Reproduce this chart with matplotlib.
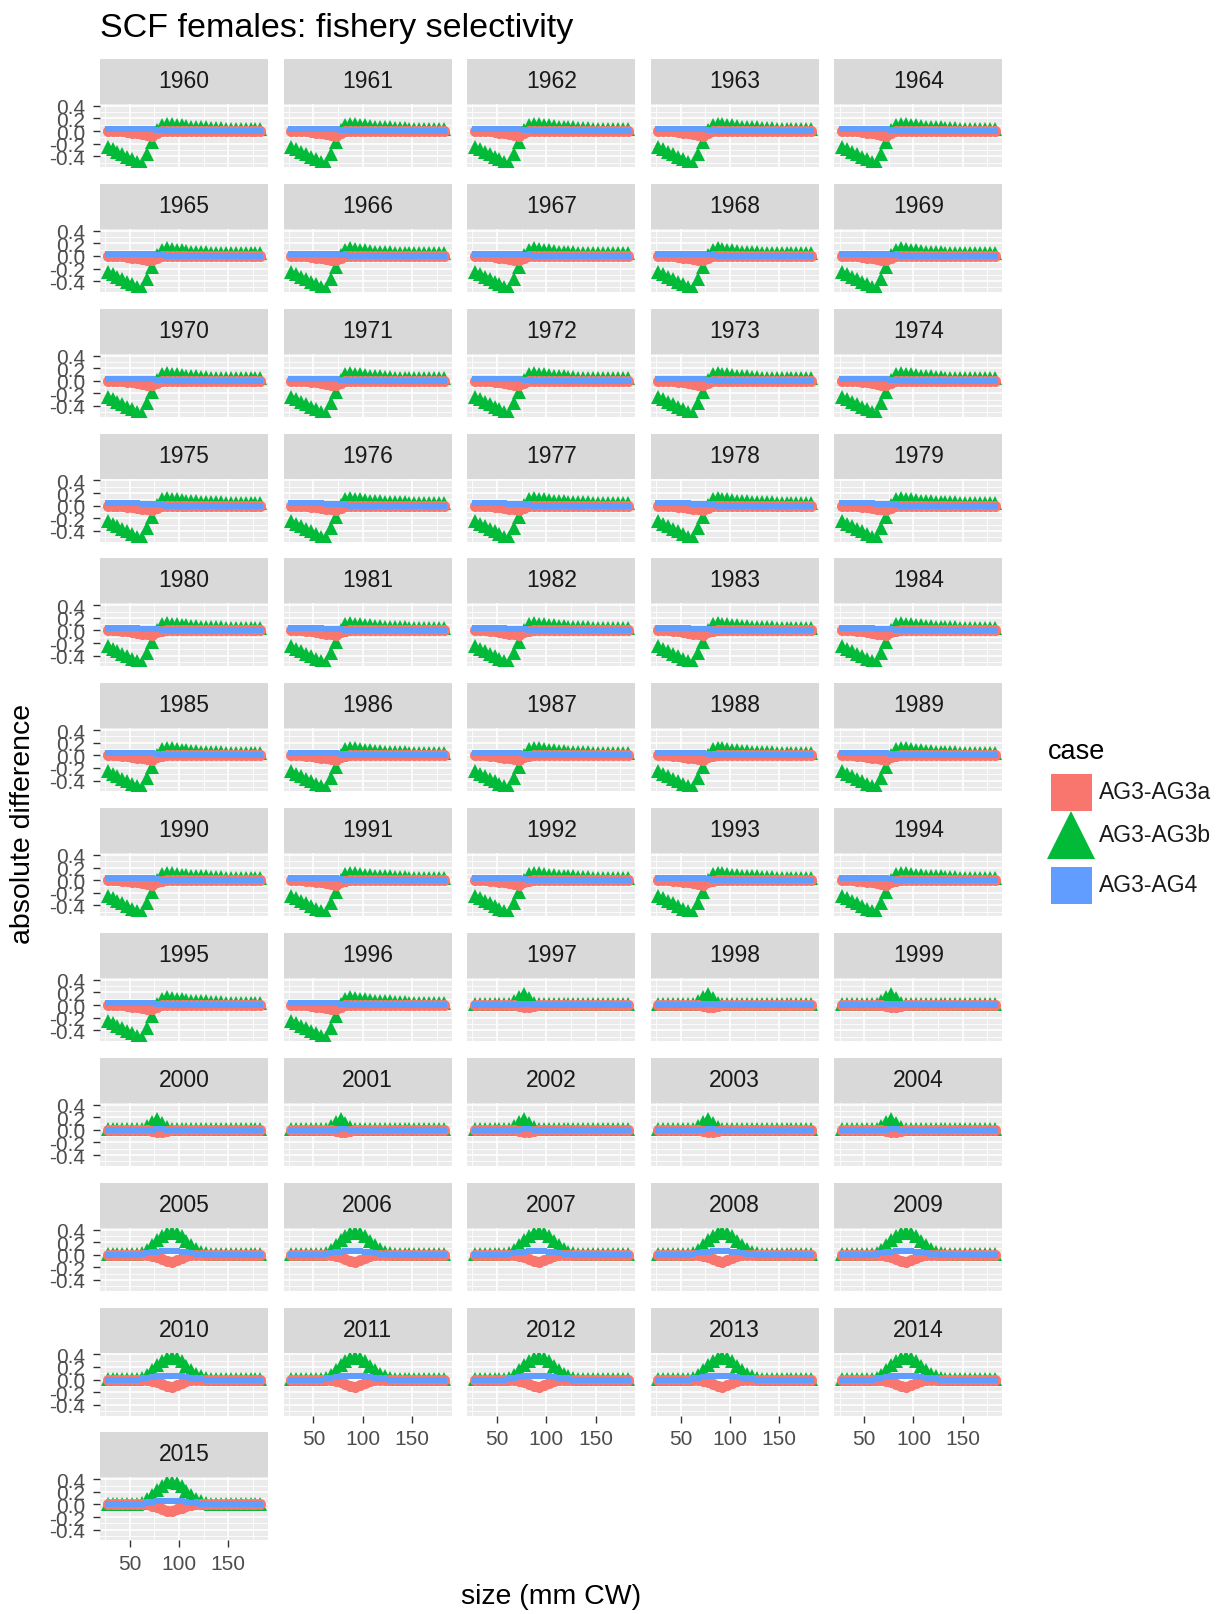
import matplotlib
matplotlib.use("Agg")
import matplotlib.pyplot as plt
from matplotlib.ticker import FixedLocator

plt.rcParams['font.family'] = ['Liberation Sans', 'DejaVu Sans']
plt.rcParams['axes.unicode_minus'] = False

# ---------------- data ----------------
years = list(range(1960, 2016))
period_starts = [1960, 1997, 2005]          # A: 1960-1996, B: 1997-2004, C: 2005-2015

sizes = [27.5, 32.5, 37.5, 42.5, 47.5, 52.5, 57.5, 62.5, 67.5, 72.5, 77.5, 82.5,
         87.5, 92.5, 97.5, 102.5, 107.5, 112.5, 117.5, 122.5, 127.5, 132.5, 137.5,
         142.5, 147.5, 152.5, 157.5, 162.5, 167.5, 172.5, 177.5, 182.5]

cases = ["AG3-AG3a", "AG3-AG3b", "AG3-AG4"]

# period A (1960-1996)
ag3a_A = [0.0, 0.0, 0.0, -0.005, -0.015, -0.025, -0.035, -0.05, -0.06, -0.07, -0.03, -0.005,
          0.0, 0.0, 0.0, 0.0, 0.0, 0.0, 0.0, 0.0, 0.0, 0.0, 0.0, 0.0, 0.0, 0.0, 0.0, 0.0,
          0.0, 0.0, 0.0, 0.0]
ag3b_A = [-0.25, -0.29, -0.33, -0.37, -0.41, -0.45, -0.49, -0.52, -0.36, -0.18, 0.01, 0.10,
          0.12, 0.11, 0.10, 0.09, 0.08, 0.07, 0.07, 0.06, 0.06, 0.05, 0.05, 0.05, 0.04, 0.04,
          0.04, 0.04, 0.04, 0.04, 0.04, 0.04]
ag4_A = [0.035, 0.035, 0.035, 0.035, 0.035, 0.035, 0.035, 0.03, 0.03, 0.03, 0.02, 0.01,
         0.0, 0.0, 0.0, 0.0, 0.0, 0.0, 0.0, 0.0, 0.0, 0.0, 0.0, 0.0, 0.0, 0.0, 0.0, 0.0,
         0.0, 0.0, 0.0, 0.0]

# period B (1997-2004)
ag3a_B = [0.0, 0.0, 0.0, 0.0, 0.0, 0.0, 0.0, 0.0, 0.0, -0.01, -0.03, -0.03,
          -0.01, 0.0, 0.0, 0.0, 0.0, 0.0, 0.0, 0.0, 0.0, 0.0, 0.0, 0.0, 0.0, 0.0, 0.0, 0.0,
          0.0, 0.0, 0.0, 0.0]
ag3b_B = [0.01, 0.01, 0.01, 0.01, 0.01, 0.01, 0.01, 0.02, 0.06, 0.13, 0.17, 0.11,
          0.04, 0.02, 0.01, 0.01, 0.01, 0.01, 0.01, 0.01, 0.01, 0.01, 0.01, 0.01, 0.01, 0.01,
          0.01, 0.01, 0.01, 0.01, 0.01, 0.01]
ag4_B = [0.0, 0.0, 0.0, 0.0, 0.0, 0.0, 0.0, 0.0, 0.0, 0.0, 0.015, 0.015,
         0.0, 0.0, 0.0, 0.0, 0.0, 0.0, 0.0, 0.0, 0.0, 0.0, 0.0, 0.0, 0.0, 0.0, 0.0, 0.0,
         0.0, 0.0, 0.0, 0.0]

# period C (2005-2015)
ag3a_C = [0.0, 0.0, 0.0, 0.0, 0.0, 0.0, 0.0, 0.0, 0.0, -0.02, -0.04, -0.07,
          -0.10, -0.11, -0.08, -0.05, -0.02, -0.005, 0.0, 0.0, 0.0, 0.0, 0.0, 0.0, 0.0, 0.0,
          0.0, 0.0, 0.0, 0.0, 0.0, 0.0]
ag3b_C = [0.01, 0.01, 0.01, 0.01, 0.01, 0.01, 0.01, 0.03, 0.08, 0.15, 0.23, 0.30,
          0.35, 0.36, 0.34, 0.29, 0.22, 0.15, 0.09, 0.05, 0.03, 0.01, 0.01, 0.01, 0.01, 0.01,
          0.01, 0.01, 0.01, 0.01, 0.01, 0.01]
ag4_C = [0.0, 0.0, 0.0, 0.0, 0.0, 0.0, 0.0, 0.01, 0.02, 0.04, 0.05, 0.06,
         0.06, 0.06, 0.06, 0.05, 0.04, 0.03, 0.015, 0.005, 0.0, 0.0, 0.0, 0.0, 0.0, 0.0,
         0.0, 0.0, 0.0, 0.0, 0.0, 0.0]

periods = [
    {"AG3-AG3a": ag3a_A, "AG3-AG3b": ag3b_A, "AG3-AG4": ag4_A},
    {"AG3-AG3a": ag3a_B, "AG3-AG3b": ag3b_B, "AG3-AG4": ag4_B},
    {"AG3-AG3a": ag3a_C, "AG3-AG3b": ag3b_C, "AG3-AG4": ag4_C},
]

y_ticks = [-0.4, -0.2, 0.0, 0.2, 0.4]
y_ticklabels = ["-0.4", "-0.2", "0.0", "0.2", "0.4"]
x_ticks = [50, 100, 150]
x_ticklabels = ["50", "100", "150"]

# ---------------- style ----------------
colors = {"AG3-AG3a": "#F8766D", "AG3-AG3b": "#00BA38", "AG3-AG4": "#619CFF"}
markers = {"AG3-AG3a": "o", "AG3-AG3b": "^", "AG3-AG4": "s"}
msizes = {"AG3-AG3a": 8.0, "AG3-AG3b": 9.6, "AG3-AG4": 4.8}
zorders = {"AG3-AG3a": 3, "AG3-AG3b": 2, "AG3-AG4": 4}

W, H = 1223, 1615
fig = plt.figure(figsize=(W / 100, H / 100), dpi=100)


def rect(left, top, w, h):
    return [left / W, 1 - (top + h) / H, w / W, h / H]


ncol = 5
col_left0, col_pitch, pw = 100.0, 183.6, 168.0
row_top0, row_pitch, sh, ph = 60.0, 124.85, 45.0, 63.0
xlim = (19.75, 190.25)
ylim = (-0.57, 0.43)


def period_index(yr):
    idx = 0
    for k, s in enumerate(period_starts):
        if yr >= s:
            idx = k
    return idx


for i, yr in enumerate(years):
    r, c = divmod(i, ncol)
    L = col_left0 + c * col_pitch
    T = row_top0 + r * row_pitch
    # strip
    sax = fig.add_axes(rect(L, T, pw, sh))
    sax.set_facecolor("#D9D9D9")
    sax.set_xticks([]); sax.set_yticks([])
    for sp in sax.spines.values():
        sp.set_visible(False)
    sax.text(0.5, 0.52, str(yr), ha="center", va="center", fontsize=16.5,
             color="#1A1A1A", transform=sax.transAxes)
    # panel
    ax = fig.add_axes(rect(L, T + sh, pw, ph))
    ax.set_facecolor("#EBEBEB")
    for sp in ax.spines.values():
        sp.set_visible(False)
    ax.set_xlim(*xlim); ax.set_ylim(*ylim)
    ax.xaxis.set_major_locator(FixedLocator(x_ticks))
    ax.xaxis.set_minor_locator(FixedLocator([25, 75, 125, 175]))
    ax.yaxis.set_major_locator(FixedLocator(y_ticks))
    ax.yaxis.set_minor_locator(FixedLocator([-0.5, -0.3, -0.1, 0.1, 0.3]))
    ax.grid(which="major", color="white", lw=1.2)
    ax.grid(which="minor", color="white", lw=0.6)
    ax.set_axisbelow(True)
    ax.tick_params(which="minor", length=0)

    data = periods[period_index(yr)]
    for cs in cases:
        ax.plot(sizes, data[cs], linestyle="none", marker=markers[cs],
                markersize=msizes[cs], color=colors[cs], markeredgewidth=0,
                zorder=zorders[cs])

    show_y = (c == 0)
    bottom_of_col = (i + ncol >= len(years))
    if show_y:
        ax.set_yticklabels(y_ticklabels)
        ax.tick_params(axis="y", which="major", length=4.8, width=1.0, color="#333333",
                       pad=6, labelsize=15, labelcolor="#4D4D4D")
    else:
        ax.tick_params(axis="y", which="major", length=0, labelleft=False)
    if bottom_of_col:
        ax.set_xticklabels(x_ticklabels)
        ax.tick_params(axis="x", which="major", length=4.8, width=1.0, color="#333333",
                       pad=5, labelsize=15, labelcolor="#4D4D4D")
    else:
        ax.tick_params(axis="x", which="major", length=0, labelbottom=False)

# titles
fig.text(100 / W, 1 - 28 / H, "SCF females: fishery selectivity", fontsize=24.5,
         ha="left", va="center", color="black")
fig.text(551 / W, 1 - 1597 / H, "size (mm CW)", fontsize=20.5, ha="center", va="center")
fig.text(23 / W, 1 - 824 / H, "absolute difference", fontsize=20.5, rotation=90,
         ha="center", va="center")

# legend
fig.text(1048 / W, 1 - 752 / H, "case", fontsize=19.5, ha="left", va="center")
key_centers = [793, 836, 886]
key_ms = {"AG3-AG3a": 52, "AG3-AG3b": 34, "AG3-AG4": 50}
key_clip = {"AG3-AG3a": True, "AG3-AG3b": False, "AG3-AG4": True}
for cs, yc in zip(cases, key_centers):
    kax = fig.add_axes(rect(1051, yc - 18, 40, 36))
    kax.set_xlim(-1, 1); kax.set_ylim(-1, 1)
    kax.axis("off")
    kax.plot([0], [0], marker=markers[cs], markersize=key_ms[cs], color=colors[cs],
             markeredgewidth=0, linestyle="none", clip_on=key_clip[cs])
    fig.text(1099 / W, 1 - yc / H, cs, fontsize=16.5, ha="left", va="center",
             color="#1A1A1A")

fig.savefig("out.png", dpi=100)
